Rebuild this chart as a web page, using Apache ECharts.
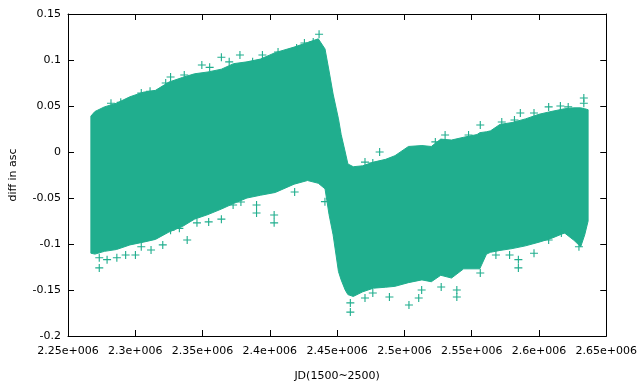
<!DOCTYPE html>
<html>
<head>
<meta charset="utf-8">
<script src="https://cdn.jsdelivr.net/npm/echarts@6/dist/echarts.min.js"></script>
<style>html,body{margin:0;padding:0;background:#fff}#c{width:640px;height:387px}</style>
</head>
<body>
<div id="c"></div>
<script>
// Band envelope (JD, upper edge, lower edge)
var bandJD = [2267000,2270000,2277000,2286000,2296000,2306000,2315000,2325000,2335000,2344000,2354000,2364000,2373000,2383000,2393000,2404000,2418000,2428000,2436000,2441000,2444000,2447000,2451000,2453000,2456000,2458000,2462000,2469000,2477000,2486000,2493000,2503000,2513000,2520000,2527000,2535000,2544000,2554000,2556000,2561000,2564000,2571000,2580000,2590000,2600000,2609000,2619000,2626000,2631000,2634000,2636500];
var bandUpper = [0.039,0.044,0.049,0.053,0.060,0.065,0.067,0.076,0.081,0.085,0.087,0.090,0.096,0.098,0.101,0.108,0.114,0.119,0.123,0.112,0.088,0.063,0.036,0.019,0.000,-0.013,-0.016,-0.015,-0.011,-0.008,-0.004,0.006,0.007,0.006,0.014,0.013,0.016,0.019,0.021,0.022,0.023,0.030,0.032,0.036,0.041,0.044,0.047,0.048,0.048,0.047,0.046];
var bandLower = [-0.110,-0.111,-0.108,-0.106,-0.101,-0.098,-0.095,-0.087,-0.081,-0.073,-0.068,-0.062,-0.056,-0.050,-0.047,-0.044,-0.035,-0.031,-0.034,-0.040,-0.068,-0.090,-0.130,-0.139,-0.150,-0.155,-0.157,-0.152,-0.148,-0.147,-0.146,-0.142,-0.139,-0.141,-0.134,-0.137,-0.127,-0.127,-0.127,-0.111,-0.109,-0.107,-0.105,-0.102,-0.098,-0.094,-0.088,-0.096,-0.103,-0.090,-0.075];

// Isolated points outside the band
var outJD = [2281944,2289204,2304450,2310984,2322600,2326230,2336394,2349462,2355270,2363982,2369790,2377776,2387214,2394474,2406090,2419884,2425692,2432226,2436582,2470704,2481594,2476512,2522976,2530236,2547660,2556372,2572344,2581782,2586138,2596302,2607192,2615904,2621712,2633328,2633328,
 2273232,2273232,2279040,2286300,2292834,2300094,2304450,2311710,2320422,2326230,2332764,2338572,2345832,2354544,2363982,2372694,2378502,2390118,2390118,2403186,2403186,2418432,2440938,2459814,2459814,2470704,2476512,2488854,2503374,2510634,2512812,2527332,2538948,2538948,2556372,2567988,2578152,2584686,2584686,2596302,2607192,2616630,2629698];
var outDiff = [0.053,0.054,0.064,0.066,0.075,0.0815,0.0837,0.0946,0.092,0.103,0.098,0.1054,0.098,0.1054,0.1087,0.113,0.1185,0.1196,0.128,-0.011,0.0,-0.012,0.011,0.0185,0.0185,0.0293,0.0326,0.0348,0.0424,0.0424,0.049,0.050,0.049,0.0587,0.053,
 -0.126,-0.115,-0.117,-0.115,-0.112,-0.112,-0.103,-0.1065,-0.101,-0.085,-0.083,-0.0957,-0.077,-0.076,-0.073,-0.0576,-0.0543,-0.0663,-0.0576,-0.077,-0.0685,-0.0435,-0.054,-0.174,-0.164,-0.1587,-0.1533,-0.1576,-0.1663,-0.1587,-0.150,-0.1467,-0.1576,-0.150,-0.1315,-0.112,-0.112,-0.126,-0.117,-0.110,-0.0957,-0.088,-0.103];

var xTickLabels = ['2.25e+006','2.3e+006','2.35e+006','2.4e+006','2.45e+006','2.5e+006','2.55e+006','2.6e+006','2.65e+006'];
var yTickLabels = ['-0.2','-0.15','-0.1','-0.05','0','0.05','0.1','0.15'];

var COLOR = '#20ae8e';
var FONT = 'DejaVu Sans';
var chart = echarts.init(document.getElementById('c'), null, {renderer:'canvas'});

var bandData = bandJD.map(function(x,i){ return [x, bandUpper[i], bandLower[i]]; });
var outData = outJD.map(function(x,i){ return [x, outDiff[i]]; });

function xLab(v){ var k = Math.round((v-2250000)/50000); return xTickLabels[k] || ''; }
function yLab(v){ var k = Math.round((v+0.2)/0.05); return yTickLabels[k] || ''; }

var axisLine = {show:true, onZero:false, lineStyle:{color:'#000', width:1}};
var tick = {show:true, inside:true, length:6, lineStyle:{color:'#000', width:1}};

chart.setOption({
  animation:false,
  backgroundColor:'#fff',
  grid:{left:68, right:21, top:14, bottom:51},
  xAxis:[{
    type:'value', min:2250000, max:2650000, interval:50000,
    axisLine:axisLine, axisTick:tick, splitLine:{show:false},
    axisLabel:{formatter:xLab, color:'#000', fontFamily:FONT, fontSize:11, margin:10, showMaxLabel:true, hideOverlap:false},
    name:'JD(1500~2500)', nameLocation:'middle', nameGap:35,
    nameTextStyle:{color:'#000', fontFamily:FONT, fontSize:11}
  },{
    type:'value', position:'top', min:2250000, max:2650000, interval:50000,
    axisLine:axisLine, axisTick:tick, axisLabel:{show:false}, splitLine:{show:false}
  }],
  yAxis:[{
    type:'value', min:-0.2, max:0.15, interval:0.05,
    axisLine:axisLine, axisTick:tick, splitLine:{show:false},
    axisLabel:{formatter:yLab, color:'#000', fontFamily:FONT, fontSize:11, margin:7},
    name:'diff in asc', nameLocation:'middle', nameGap:49, nameRotate:90,
    nameTextStyle:{color:'#000', fontFamily:FONT, fontSize:11}
  },{
    type:'value', position:'right', min:-0.2, max:0.15, interval:0.05,
    axisLine:axisLine, axisTick:tick, axisLabel:{show:false}, splitLine:{show:false}
  }],
  series:[{
    type:'custom',
    data: bandData,
    encode:{x:0, y:[1,2]},
    renderItem:function(params, api){
      if (params.dataIndex !== 0) return null;
      var pts = [];
      for (var i=0;i<bandJD.length;i++) pts.push(api.coord([bandJD[i], bandUpper[i]]));
      for (var j=bandJD.length-1;j>=0;j--) pts.push(api.coord([bandJD[j], bandLower[j]]));
      return {type:'polygon', shape:{points:pts}, style:{fill:COLOR, stroke:COLOR, lineWidth:1}};
    },
    z:2
  },{
    type:'scatter',
    data: outData,
    symbol:'path://M4.3,0H5.7V4.3H10V5.7H5.7V10H4.3V5.7H0V4.3H4.3Z',
    symbolSize:8,
    itemStyle:{color:COLOR, opacity:1},
    z:3
  }]
});
</script>
</body>
</html>
